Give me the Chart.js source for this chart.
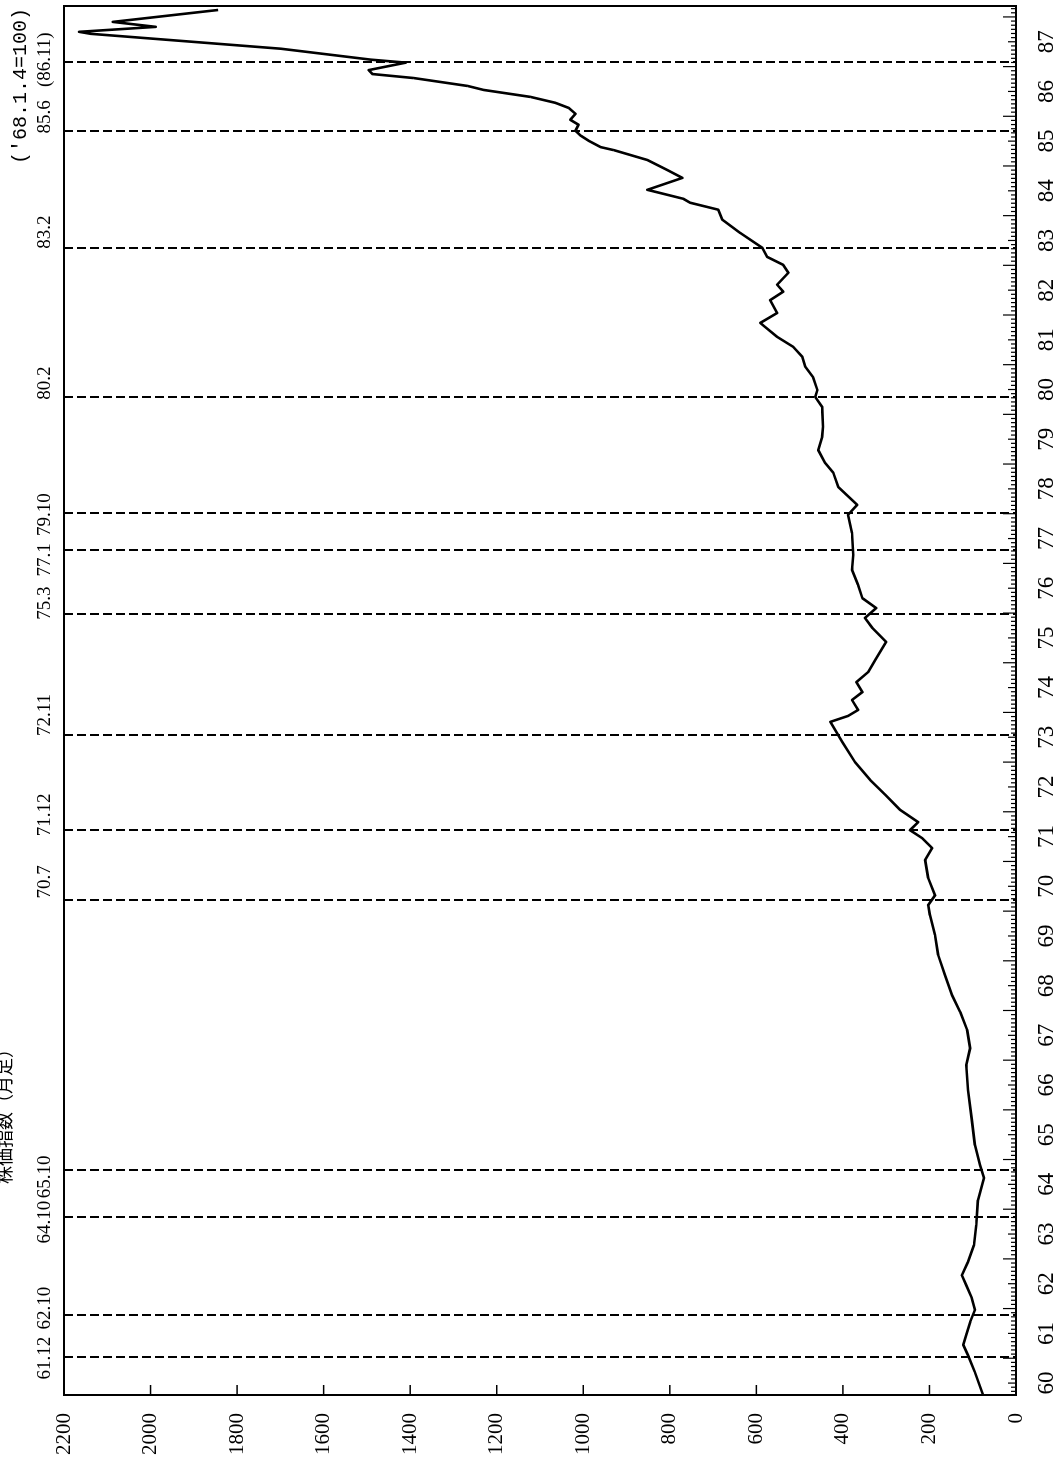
<!DOCTYPE html>
<html>
<head>
<meta charset="utf-8">
<script src="https://cdn.jsdelivr.net/npm/chart.js@4"></script>
<style>
  html, body { margin: 0; padding: 0; background: #fff; overflow: hidden; }
  body { width: 1058px; height: 1468px; position: relative; }
  /* the chart is drawn upright and then turned a quarter turn, as in the scan */
  #wrap {
    position: absolute; left: 0; top: 0;
    width: 1468px; height: 1058px;
    transform-origin: 0 0;
    transform: translateY(1468px) rotate(-90deg);
  }
</style>
</head>
<body>
<div id="wrap"><canvas id="chart" width="1468" height="1058"></canvas></div>
<script>
// time in years (19xx)
const years = [60.26, 60.72, 61.06, 61.27, 61.47, 61.73, 61.97, 62.21, 62.47, 62.67,
  62.94, 63.28, 63.68, 64.18, 64.63, 64.89, 65.29, 65.79, 66.40, 66.90,
  67.24, 67.61, 67.97, 68.31, 68.71, 69.12, 69.52, 69.92, 70.12, 70.32,
  70.67, 71.03, 71.27, 71.47, 71.63, 71.79, 72.04, 72.34, 72.64, 73.00,
  73.41, 73.81, 73.93, 74.05, 74.25, 74.41, 74.61, 74.81, 75.06, 75.42,
  75.70, 75.90, 76.10, 76.30, 76.57, 76.87, 77.17, 77.61, 77.98, 78.18,
  78.54, 78.82, 79.02, 79.28, 79.55, 79.75, 80.15, 80.35, 80.49, 80.75,
  80.96, 81.16, 81.36, 81.56, 81.84, 82.04, 82.30, 82.47, 82.61, 82.85,
  83.01, 83.17, 83.35, 83.65, 83.92, 84.12, 84.26, 84.34, 84.52, 84.76,
  84.92, 85.12, 85.32, 85.38, 85.51, 85.61, 85.71, 85.83, 85.93, 86.05,
  86.17, 86.27, 86.39, 86.53, 86.61, 86.77, 86.85, 86.93, 87.08, 87.14,
  87.36, 87.66, 87.70, 87.80, 87.90, 88.14];
// index values ('68.1.4 = 100)
const values = [76, 95, 111, 122, 115, 106, 95, 102, 115, 125,
  111, 97, 92, 88, 74, 83, 95, 102, 111, 115,
  106, 113, 129, 148, 164, 180, 187, 199, 203, 187,
  203, 210, 194, 217, 245, 226, 268, 302, 337, 372,
  402, 429, 388, 365, 379, 355, 369, 342, 325, 300,
  332, 349, 323, 355, 365, 379, 376, 379, 388, 367,
  411, 422, 441, 457, 448, 446, 448, 464, 459, 469,
  487, 494, 515, 552, 591, 552, 568, 538, 552, 526,
  538, 575, 586, 637, 679, 688, 753, 769, 852, 771,
  806, 852, 930, 960, 988, 1006, 1018, 1011, 1030, 1018,
  1034, 1064, 1122, 1230, 1267, 1392, 1487, 1496, 1410, 1491,
  1699, 2138, 2165, 1988, 2087, 1844];

// dashed reference lines, their captions and where each caption sits
const eventAt = [61.02, 61.87, 63.84, 64.79, 70.22, 71.63, 73.55, 75.98, 77.27, 78.02, 80.35, 83.35, 85.71, 87.10];
const eventLabels = ['61.12', '62.10', '64.10', '65.10', '70.7', '71.12', '72.11', '75.3', '77.1', '79.10', '80.2', '83.2', '85.6', '(86.11)'];
const labelAt = [61.00, 62.01, 63.74, 64.65, 70.59, 71.94, 73.95, 76.20, 77.07, 77.98, 80.63, 83.67, 85.99, 87.14];

// year labels sit in the middle of each year
const yearLabels = [];
for (let y = 60; y <= 87; y++) yearLabels.push(y);
const valueTicks = [0, 200, 400, 600, 800, 1000, 1200, 1400, 1600, 1800, 2000, 2200];

const baseNote = "('68.1.4=100)";
const title = '株価指数（月足）';

const serif = '"Liberation Serif", "DejaVu Serif", serif';

const overlay = {
  id: 'overlay',
  beforeDatasetsDraw(chart) {
    const { ctx, chartArea: a, scales: { x } } = chart;
    ctx.save();
    ctx.strokeStyle = '#000';
    ctx.lineWidth = 2;
    ctx.setLineDash([9, 4]);
    eventAt.forEach(d => {
      const px = Math.round(x.getPixelForValue(d));
      ctx.beginPath();
      ctx.moveTo(px, a.top);
      ctx.lineTo(px, a.bottom);
      ctx.stroke();
    });
    ctx.restore();
  },
  afterDatasetsDraw(chart) {
    const { ctx, chartArea: a, scales: { x, y } } = chart;
    ctx.save();
    ctx.strokeStyle = '#000';
    ctx.lineWidth = 2;
    ctx.strokeRect(a.left, a.top, a.right - a.left, a.bottom - a.top);

    // month ticks along the time axis, longer at each new year
    ctx.lineWidth = 1.2;
    for (let m = Math.ceil(x.min * 12); m <= Math.floor(x.max * 12); m++) {
      const px = x.getPixelForValue(m / 12);
      const len = m % 12 === 0 ? 13 : (m % 6 === 0 ? 8 : 5);
      ctx.beginPath();
      ctx.moveTo(px, a.bottom);
      ctx.lineTo(px, a.bottom - len);
      ctx.stroke();
    }
    // value ticks, pointing inwards
    ctx.lineWidth = 1.5;
    valueTicks.forEach(v => {
      const py = y.getPixelForValue(v);
      ctx.beginPath();
      ctx.moveTo(a.left, py);
      ctx.lineTo(a.left + 10, py);
      ctx.stroke();
    });

    ctx.fillStyle = '#000';
    ctx.font = '19px ' + serif;
    ctx.textAlign = 'center';
    ctx.textBaseline = 'middle';
    labelAt.forEach((d, i) => {
      ctx.fillText(eventLabels[i], x.getPixelForValue(d), a.top - 19);
    });

    ctx.font = '20px "Liberation Mono", monospace';
    ctx.textAlign = 'right';
    ctx.fillText(baseNote, a.right - 2, 21);

    ctx.font = '18px "Noto Sans CJK JP", sans-serif';
    ctx.textAlign = 'right';
    ctx.fillText(title, 428, 4);
    ctx.restore();
  }
};

new Chart(document.getElementById('chart').getContext('2d'), {
  type: 'line',
  data: {
    datasets: [{
      data: years.map((t, i) => ({ x: t, y: values[i] })),
      borderColor: '#000',
      borderWidth: 2.6,
      borderJoinStyle: 'round',
      pointRadius: 0,
      tension: 0,
      fill: false
    }]
  },
  options: {
    responsive: false,
    animation: false,
    devicePixelRatio: 1,
    layout: { padding: { top: 64, right: 6, left: 0, bottom: 0 } },
    plugins: { legend: { display: false }, tooltip: { enabled: false } },
    scales: {
      x: {
        type: 'linear',
        min: 60.26,
        max: 88.22,
        afterBuildTicks: s => { s.ticks = yearLabels.map(v => ({ value: v + 0.5 })); },
        afterFit: s => { s.height = 42; },
        ticks: {
          autoSkip: false, maxRotation: 0, padding: 17, color: '#000',
          font: { family: serif, size: 23 },
          callback: v => String(Math.floor(v))
        },
        grid: { display: false, drawTicks: false },
        border: { display: false }
      },
      y: {
        min: 0,
        max: 2200,
        afterBuildTicks: s => { s.ticks = valueTicks.map(v => ({ value: v })); },
        afterFit: s => { s.width = 73; },
        ticks: {
          padding: 18, color: '#000',
          font: { family: serif, size: 21 },
          callback: v => String(v)
        },
        grid: { display: false, drawTicks: false },
        border: { display: false }
      }
    }
  },
  plugins: [overlay]
});
</script>
</body>
</html>
